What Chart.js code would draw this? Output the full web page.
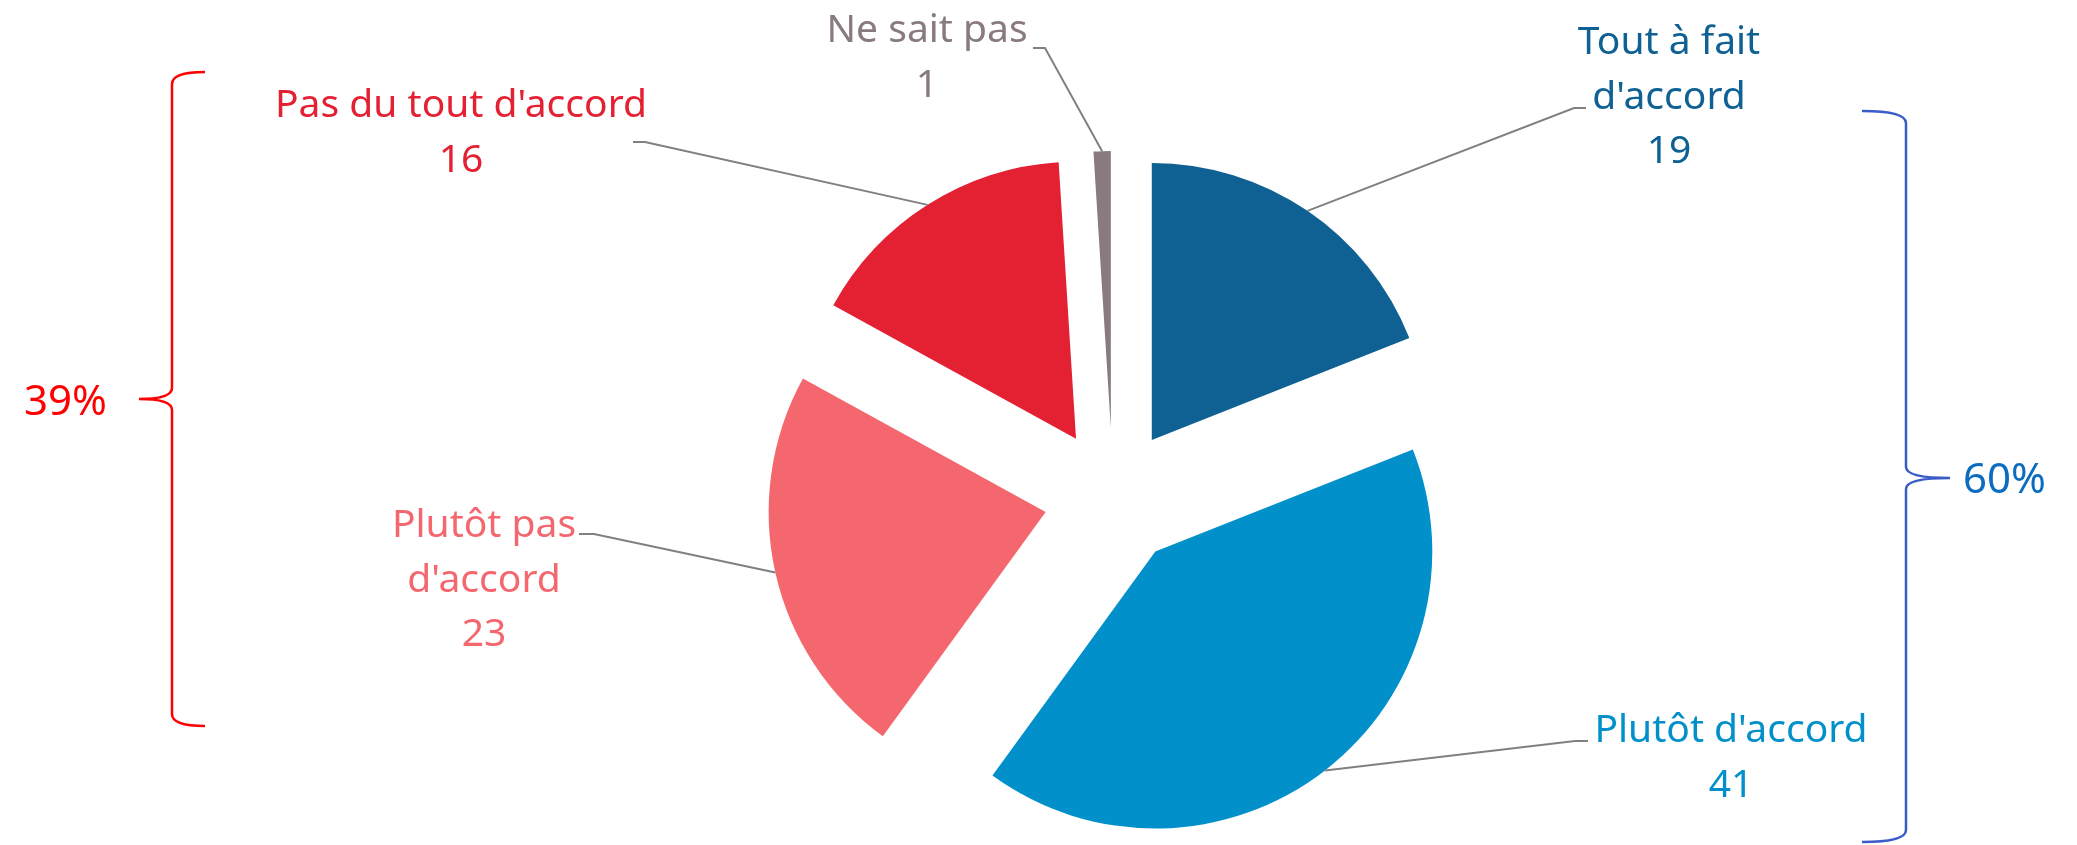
<!DOCTYPE html>
<html>
<head>
<meta charset="utf-8">
<script src="https://cdn.jsdelivr.net/npm/chart.js@4/dist/chart.umd.min.js"></script>
<style>
  html, body { margin: 0; padding: 0; background: #fff; }
  #pie { display: block; }
</style>
</head>
<body>
<canvas id="pie" width="2077" height="845"></canvas>
<script>
// données
const categories = [
  ["Tout à fait", "d'accord"],
  ["Plutôt d'accord"],
  ["Plutôt pas", "d'accord"],
  ["Pas du tout d'accord"],
  ["Ne sait pas"],
];
const values = [19, 41, 23, 16, 1];
const agreeGroup = [0, 1];     // bracket droit
const disagreeGroup = [2, 3];  // bracket gauche

// couleurs
const sliceColors = ["#0E6192", "#0290CB", "#F4676F", "#E42033", "#887A7E"];

// position des étiquettes (centre x, ligne de base de la 1re ligne) et coude du trait
const labelPos = [
  { x: 1669, y: 54, ex: 1574, ey: 108, hx: 1586 },
  { x: 1731, y: 742, ex: 1575, ey: 741, hx: 1588 },
  { x: 484, y: 537, ex: 594, ey: 534, hx: 579 },
  { x: 461, y: 117, ex: 645, ey: 142, hx: 633 },
  { x: 927, y: 42, ex: 1045, ey: 48, hx: 1033 },
];

const FONT = "39px 'Noto Sans', sans-serif";
const PCT_FONT = "42px 'Noto Sans', sans-serif";
const LINE_H = 54.5;
const EXPLODE = 69;

// éclatement de chaque part le long de sa bissectrice
const explodePlugin = {
  id: "explode",
  afterDatasetUpdate(chart, args) {
    args.meta.data.forEach((arc) => {
      const mid = (arc.startAngle + arc.endAngle) / 2;
      arc.x += Math.cos(mid) * EXPLODE;
      arc.y += Math.sin(mid) * EXPLODE;
    });
  },
};

function drawBrace(ctx, x, top, bottom, tipY, tipX, endX, color) {
  ctx.save();
  ctx.strokeStyle = color;
  ctx.lineWidth = 2.5;
  ctx.beginPath();
  ctx.moveTo(endX, top);
  ctx.quadraticCurveTo(x, top, x, top + 12);
  ctx.lineTo(x, tipY - 11);
  ctx.quadraticCurveTo(x, tipY, tipX, tipY);
  ctx.moveTo(tipX, tipY);
  ctx.quadraticCurveTo(x, tipY, x, tipY + 11);
  ctx.lineTo(x, bottom - 12);
  ctx.quadraticCurveTo(x, bottom, endX, bottom);
  ctx.stroke();
  ctx.restore();
}

const labelPlugin = {
  id: "labels",
  afterDraw(chart) {
    const ctx = chart.ctx;
    const arcs = chart.getDatasetMeta(0).data;
    ctx.save();
    ctx.font = FONT;
    ctx.textAlign = "center";
    ctx.textBaseline = "alphabetic";

    arcs.forEach((arc, i) => {
      const mid = (arc.startAngle + arc.endAngle) / 2;
      const ax = arc.x + Math.cos(mid) * arc.outerRadius;
      const ay = arc.y + Math.sin(mid) * arc.outerRadius;
      const p = labelPos[i];

      ctx.strokeStyle = "#808080";
      ctx.lineWidth = 2;
      ctx.beginPath();
      ctx.moveTo(ax, ay);
      ctx.lineTo(p.ex, p.ey);
      ctx.lineTo(p.hx, p.ey);
      ctx.stroke();

      const lines = categories[i].concat([String(values[i])]);
      ctx.fillStyle = sliceColors[i];
      lines.forEach((t, k) => ctx.fillText(t, p.x, p.y + k * LINE_H));
    });

    const total = values.reduce((a, b) => a + b, 0);
    const pct = (grp) => Math.round(grp.reduce((s, i) => s + values[i], 0) / total * 100) + "%";

    ctx.font = PCT_FONT;
    drawBrace(ctx, 1906, 111, 842, 478, 1950, 1862, "#3A5CC8");
    ctx.fillStyle = "#0B6CC0";
    ctx.textAlign = "left";
    ctx.fillText(pct(agreeGroup), 1963, 493);

    drawBrace(ctx, 172, 72, 726, 399, 139, 205, "#FF0000");
    ctx.fillStyle = "#FF0000";
    ctx.textAlign = "right";
    ctx.fillText(pct(disagreeGroup), 107, 415);
    ctx.restore();
  },
};

new Chart(document.getElementById("pie"), {
  type: "pie",
  data: {
    labels: categories.map((c) => c.join(" ")),
    datasets: [
      {
        data: values,
        backgroundColor: sliceColors,
        borderWidth: 0,
        radius: 277,
      },
    ],
  },
  options: {
    responsive: false,
    devicePixelRatio: 1,
    animation: false,
    layout: { padding: { left: 149, top: 149, right: 0, bottom: 0 } },
    plugins: {
      legend: { display: false },
      tooltip: { enabled: false },
    },
  },
  plugins: [explodePlugin, labelPlugin],
});
</script>
</body>
</html>
